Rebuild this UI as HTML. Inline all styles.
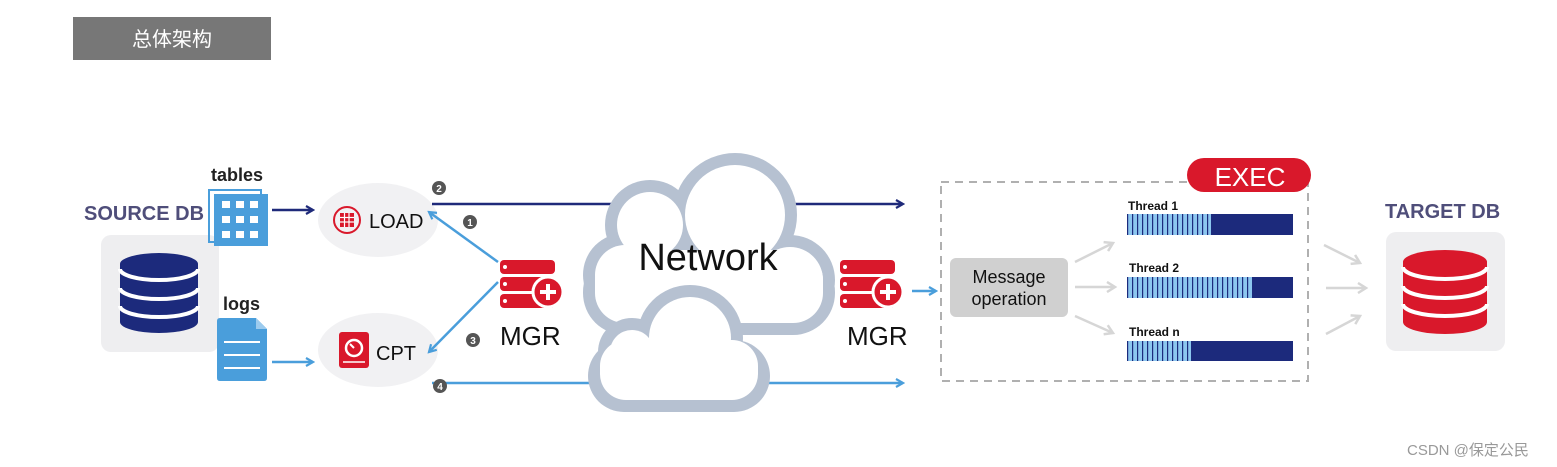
<!DOCTYPE html>
<html><head><meta charset="utf-8"><style>
html,body{margin:0;padding:0;background:#fff;}
svg{display:block;}
text{font-family:"Liberation Sans","Noto Sans CJK SC",sans-serif;}
</style></head><body>
<svg width="1557" height="467" viewBox="0 0 1557 467" xmlns="http://www.w3.org/2000/svg">
<defs>
<marker id="an" markerWidth="10" markerHeight="10" refX="8" refY="5" orient="auto" markerUnits="userSpaceOnUse"><path d="M1,1 L8,5 L1,9" fill="none" stroke="#1f2a7a" stroke-width="2.2"/></marker>
<marker id="ab" markerWidth="10" markerHeight="10" refX="8" refY="5" orient="auto" markerUnits="userSpaceOnUse"><path d="M1,1 L8,5 L1,9" fill="none" stroke="#4a9edb" stroke-width="2.2"/></marker>
<marker id="ag" markerWidth="12" markerHeight="12" refX="9" refY="6" orient="auto" markerUnits="userSpaceOnUse"><path d="M1,1 L9,6 L1,11" fill="none" stroke="#d6d6d6" stroke-width="2.5"/></marker>
</defs>
<!-- title -->
<rect x="73" y="17" width="198" height="43" fill="#777"/>
<text x="172" y="46" font-size="20" fill="#fff" text-anchor="middle" font-family="Noto Sans CJK SC, sans-serif">总体架构</text>

<!-- source DB -->
<text x="84" y="220" font-size="20" font-weight="bold" fill="#4f4e7a">SOURCE DB</text>
<rect x="101" y="235" width="118" height="117" rx="10" fill="#eeeef0"/>
<g>
<ellipse cx="159" cy="322" rx="39" ry="11" fill="#1c2a7c"/>
<rect x="120" y="264" width="78" height="58" fill="#1c2a7c"/>
<ellipse cx="159" cy="264" rx="39" ry="11" fill="#1c2a7c"/>
<path d="M120,269 A39,11 0 0 0 198,269" fill="none" stroke="#fff" stroke-width="4"/>
<path d="M120,288 A39,11 0 0 0 198,288" fill="none" stroke="#fff" stroke-width="4"/>
<path d="M120,306 A39,11 0 0 0 198,306" fill="none" stroke="#fff" stroke-width="4"/>
</g>

<!-- tables -->
<text x="211" y="181" font-size="18" font-weight="bold" fill="#222">tables</text>
<rect x="209" y="190" width="52" height="52" fill="none" stroke="#4a9edb" stroke-width="2"/>
<rect x="214" y="194" width="54" height="52" fill="#4a9edb"/>
<g fill="#fff">
<rect x="222" y="201" width="8" height="7"/><rect x="236" y="201" width="8" height="7"/><rect x="250" y="201" width="8" height="7"/>
<rect x="222" y="216" width="8" height="7"/><rect x="236" y="216" width="8" height="7"/><rect x="250" y="216" width="8" height="7"/>
<rect x="222" y="231" width="8" height="7"/><rect x="236" y="231" width="8" height="7"/><rect x="250" y="231" width="8" height="7"/>
</g>
<line x1="272" y1="210" x2="313" y2="210" stroke="#1f2a7a" stroke-width="2.5" marker-end="url(#an)"/>

<!-- logs -->
<text x="223" y="310" font-size="18" font-weight="bold" fill="#222">logs</text>
<path d="M220,318 H256 L267,329 V378 Q267,381 264,381 H220 Q217,381 217,378 V321 Q217,318 220,318Z" fill="#4a9edb"/>
<path d="M256,318 L267,329 H256Z" fill="#9ccbee"/>
<g stroke="#fff" stroke-width="2"><line x1="224" y1="342" x2="260" y2="342"/><line x1="224" y1="355" x2="260" y2="355"/><line x1="224" y1="368" x2="260" y2="368"/></g>
<line x1="272" y1="362" x2="313" y2="362" stroke="#4a9edb" stroke-width="2.5" marker-end="url(#ab)"/>

<!-- LOAD / CPT -->
<ellipse cx="378" cy="220" rx="60" ry="37" fill="#f1f1f3"/>
<ellipse cx="378" cy="350" rx="60" ry="37" fill="#f1f1f3"/>
<circle cx="347" cy="220" r="13" fill="none" stroke="#d9182b" stroke-width="2"/>
<g fill="#d9182b"><rect x="340" y="213" width="14" height="14"/></g>
<g stroke="#fff" stroke-width="1.2"><line x1="340" y1="217.5" x2="354" y2="217.5"/><line x1="340" y1="222" x2="354" y2="222"/><line x1="344.5" y1="213" x2="344.5" y2="227"/><line x1="349" y1="213" x2="349" y2="227"/></g>
<text x="369" y="228" font-size="20" fill="#111">LOAD</text>
<rect x="339" y="332" width="30" height="36" rx="3" fill="#d9182b"/>
<circle cx="354" cy="348" r="8" fill="none" stroke="#fff" stroke-width="2.5"/>
<line x1="354" y1="348" x2="350" y2="344" stroke="#fff" stroke-width="2"/>
<line x1="343" y1="362" x2="365" y2="362" stroke="#fff" stroke-width="1.5"/>
<text x="376" y="360" font-size="20" fill="#111">CPT</text>

<!-- long lines behind cloud -->
<line x1="432" y1="204" x2="903" y2="204" stroke="#1f2a7a" stroke-width="2.5" marker-end="url(#an)"/>
<line x1="432" y1="383" x2="903" y2="383" stroke="#4a9edb" stroke-width="2.5" marker-end="url(#ab)"/>

<!-- MGR arrows -->
<line x1="498" y1="262" x2="429" y2="212" stroke="#4a9edb" stroke-width="2.5" marker-end="url(#ab)"/>
<line x1="498" y1="282" x2="429" y2="352" stroke="#4a9edb" stroke-width="2.5" marker-end="url(#ab)"/>
<g font-size="10" font-weight="bold" fill="#fff" text-anchor="middle">
<circle cx="439" cy="188" r="7" fill="#555"/><text x="439" y="192">2</text>
<circle cx="470" cy="222" r="7" fill="#555"/><text x="470" y="226">1</text>
<circle cx="473" cy="340" r="7" fill="#555"/><text x="473" y="344">3</text>
<circle cx="440" cy="386" r="7" fill="#555"/><text x="440" y="390">4</text>
</g>

<!-- MGR icons -->
<g id="mgr">
<rect x="500" y="260" width="55" height="14" rx="4" fill="#d9182b"/>
<rect x="500" y="277" width="55" height="14" rx="4" fill="#d9182b"/>
<rect x="500" y="294" width="55" height="14" rx="4" fill="#d9182b"/>
<circle cx="505" cy="267" r="2" fill="#fff"/><circle cx="505" cy="284" r="2" fill="#fff"/><circle cx="505" cy="301" r="2" fill="#fff"/>
<circle cx="548" cy="292" r="15" fill="#d9182b" stroke="#fff" stroke-width="3"/>
<rect x="546" y="284" width="4" height="16" fill="#fff"/><rect x="540" y="290" width="16" height="4" fill="#fff"/>
</g>
<text x="500" y="345" font-size="26" fill="#111">MGR</text>
<use href="#mgr" x="340" y="0"/>
<text x="847" y="345" font-size="26" fill="#111">MGR</text>
<line x1="912" y1="291" x2="936" y2="291" stroke="#4a9edb" stroke-width="2.5" marker-end="url(#ab)"/>

<!-- clouds -->
<g fill="#b6c1d1">
<circle cx="735" cy="215" r="62"/><circle cx="650" cy="225" r="45"/><circle cx="625" cy="275" r="42"/><circle cx="790" cy="280" r="45"/>
<rect x="583" y="250" width="252" height="85" rx="42"/>
</g>
<g fill="#fff">
<circle cx="735" cy="215" r="50"/><circle cx="650" cy="225" r="33"/><circle cx="625" cy="275" r="30"/><circle cx="790" cy="280" r="33"/>
<rect x="595" y="250" width="228" height="73" rx="30"/>
</g>
<text x="708" y="270" font-size="38" fill="#111" text-anchor="middle">Network</text>
<g fill="#b6c1d1">
<circle cx="690" cy="338" r="53"/><circle cx="632" cy="352" r="34"/>
<rect x="588" y="340" width="182" height="72" rx="36"/>
</g>
<g fill="#fff">
<circle cx="690" cy="338" r="41"/><circle cx="632" cy="352" r="22"/>
<rect x="600" y="340" width="158" height="60" rx="26"/>
</g>

<!-- EXEC box -->
<rect x="941" y="182" width="367" height="199" fill="none" stroke="#b0b0b0" stroke-width="2" stroke-dasharray="8,6"/>
<rect x="1187" y="158" width="124" height="34" rx="17" fill="#d9182b"/>
<text x="1250" y="186" font-size="26" fill="#fff" text-anchor="middle">EXEC</text>
<rect x="950" y="258" width="118" height="59" rx="6" fill="#d0d0d0"/>
<text x="1009" y="283" font-size="18" fill="#111" text-anchor="middle">Message</text>
<text x="1009" y="305" font-size="18" fill="#111" text-anchor="middle">operation</text>
<g stroke="#d6d6d6" stroke-width="2.5">
<line x1="1075" y1="262" x2="1113" y2="243" marker-end="url(#ag)"/>
<line x1="1075" y1="287" x2="1115" y2="287" marker-end="url(#ag)"/>
<line x1="1075" y1="316" x2="1113" y2="333" marker-end="url(#ag)"/>
<line x1="1324" y1="245" x2="1360" y2="263" marker-end="url(#ag)"/>
<line x1="1326" y1="288" x2="1366" y2="288" marker-end="url(#ag)"/>
<line x1="1326" y1="334" x2="1360" y2="316" marker-end="url(#ag)"/>
</g>
<defs><pattern id="st" x="1127" y="0" width="5" height="10" patternUnits="userSpaceOnUse"><rect width="5" height="10" fill="#8cc6ef"/><rect width="1.2" height="10" fill="#1c2a7c"/></pattern></defs>
<g font-size="12" font-weight="bold" fill="#111">
<text x="1128" y="210">Thread  1</text>
<text x="1129" y="272">Thread  2</text>
<text x="1129" y="336">Thread  n</text>
</g>
<rect x="1127" y="214" width="166" height="21" fill="#1c2a7c"/><rect x="1127" y="214" width="84" height="21" fill="url(#st)"/>
<rect x="1127" y="277" width="166" height="21" fill="#1c2a7c"/><rect x="1127" y="277" width="125" height="21" fill="url(#st)"/>
<rect x="1127" y="341" width="166" height="20" fill="#1c2a7c"/><rect x="1127" y="341" width="64" height="20" fill="url(#st)"/>

<!-- target DB -->
<text x="1385" y="218" font-size="20" font-weight="bold" fill="#4f4e7a">TARGET  DB</text>
<rect x="1386" y="232" width="119" height="119" rx="10" fill="#eeeef0"/>
<g>
<ellipse cx="1445" cy="322" rx="42" ry="12" fill="#d9182b"/>
<rect x="1403" y="262" width="84" height="60" fill="#d9182b"/>
<ellipse cx="1445" cy="262" rx="42" ry="12" fill="#d9182b"/>
<path d="M1403,267 A42,12 0 0 0 1487,267" fill="none" stroke="#fff" stroke-width="4"/>
<path d="M1403,286 A42,12 0 0 0 1487,286" fill="none" stroke="#fff" stroke-width="4"/>
<path d="M1403,304 A42,12 0 0 0 1487,304" fill="none" stroke="#fff" stroke-width="4"/>
</g>
<text x="1407" y="455" font-size="15" fill="#999">CSDN @保定公民</text>
</svg>
</body></html>
